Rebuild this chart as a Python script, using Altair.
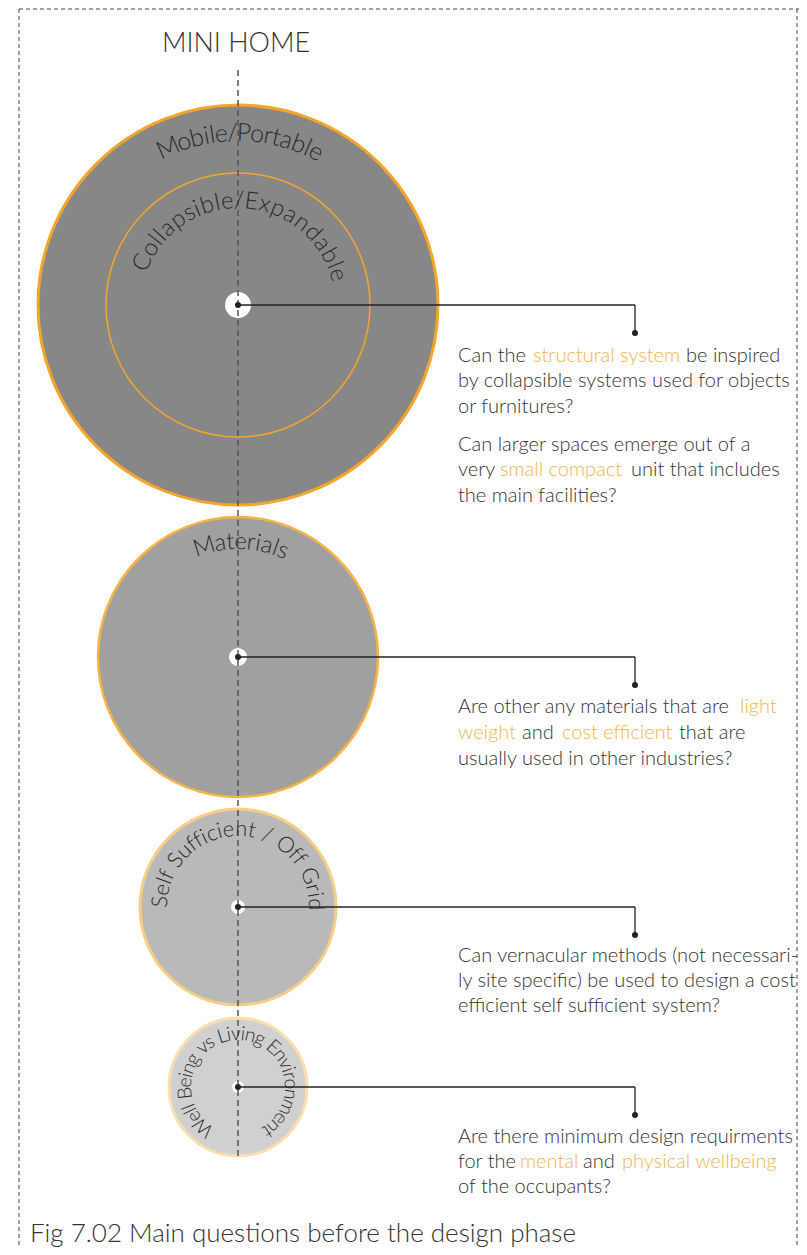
import math
import altair as alt
import pandas as pd

# ---------------- data ----------------
title_text = "MINI HOME"
caption_text = "Fig 7.02 Main questions before the design phase"

axis_x = 238
circle_cy = [305, 657, 907, 1087]
circle_r = [200, 140, 98, 69]
circle_fill = ["#878787", "#a0a0a0", "#b9b9b9", "#d0d0d0"]
circle_stroke = ["#f5a52a", "#f6b347", "#f8cd85", "#fadfae"]
circle_stroke_w = [3, 2.5, 3, 3]
hub_r = [13, 9, 7, 6]
inner_ring_r = 132

leader_corner_x = 635
leader_drop = 28

arc_labels = ["Mobile/Portable", "Collapsible/Expandable", "Materials",
              "Self Sufficient / Off Grid", "Well Being vs Living Environment"]
arc_cy = [305, 305, 657, 907, 1087]
arc_radius = [172, 104, 115, 78, 53]
arc_start = [-24, -66, -17, -86, -139]
arc_end = [27, 73, 23, 88, 147]
arc_font = [25, 24, 24, 22, 19.5]

seg_text = [
    "Can the", "structural system", "be inspired",
    "by collapsible systems used for objects",
    "or furnitures?",
    "Can larger spaces emerge out of a",
    "very", "small compact", "unit that includes",
    "the main facilities?",
    "Are other any materials that are", "light",
    "weight", "and", "cost efficient", "that are",
    "usually used in other industries?",
    "Can vernacular methods (not necessari-",
    "ly site specific) be used to design a cost",
    "efficient self sufficient system?",
    "Are there minimum design requirments",
    "for the", "mental", "and", "physical wellbeing",
    "of the occupants?",
]
seg_x = [458, 533, 686, 458, 458, 458, 458, 500, 631, 458,
         458, 740, 458, 522, 562, 679, 458, 458, 458, 458,
         458, 458, 520, 583, 622, 458]
seg_y = [362, 362, 362, 387, 413, 451, 476, 476, 476, 502,
         713, 713, 739, 739, 739, 739, 765, 962, 987, 1012,
         1143, 1168, 1168, 1168, 1168, 1193]
seg_hl = [0, 1, 0, 0, 0, 0, 0, 1, 0, 0,
          0, 1, 1, 0, 1, 0, 0, 0, 0, 0,
          0, 0, 1, 0, 1, 0]

# approximate glyph widths (em) used to space the curved labels
glyph_w = {
    "a": .51, "b": .56, "c": .45, "d": .56, "e": .51, "f": .31, "g": .50,
    "h": .56, "i": .24, "j": .24, "k": .49, "l": .24, "m": .84, "n": .56,
    "o": .55, "p": .56, "r": .35, "s": .41, "t": .34, "u": .56, "v": .49,
    "w": .74, "x": .48, "y": .49, "z": .44, " ": .30, "/": .40, "C": .64,
    "E": .54, "G": .69, "L": .46, "M": .84, "P": .55, "S": .50, "W": .92,
    "O": .75, "B": .60,
}

FONT = "Lato"
DARK = "#333333"
ORANGE = "#f9b44e"

# ---------------- tables ----------------
circles = pd.DataFrame({
    "x": [axis_x] * 4, "y": circle_cy,
    "size": [(2 * r) ** 2 for r in circle_r],
    "fill": circle_fill, "stroke": circle_stroke, "sw": circle_stroke_w,
})
ring = pd.DataFrame({"x": [axis_x], "y": [circle_cy[0]], "size": [(2 * inner_ring_r) ** 2]})
hubs = pd.DataFrame({"x": [axis_x] * 4, "y": circle_cy, "size": [(2 * r) ** 2 for r in hub_r]})
centers = pd.DataFrame({"x": [axis_x] * 4, "y": circle_cy})
ends = pd.DataFrame({"x": [leader_corner_x] * 4, "y": [c + leader_drop for c in circle_cy]})
hlines = pd.DataFrame({"x": [axis_x] * 4, "x2": [leader_corner_x] * 4, "y": circle_cy})
vlines = pd.DataFrame({"x": [leader_corner_x] * 4, "y": circle_cy,
                       "y2": [c + leader_drop for c in circle_cy]})

rows = []
for lab, cy, r, a0, a1, fs in zip(arc_labels, arc_cy, arc_radius, arc_start, arc_end, arc_font):
    ws = [glyph_w.get(ch, .5) for ch in lab]
    cum, pos = 0.0, []
    for w in ws:
        pos.append(cum + w / 2)
        cum += w
    p0, p1 = pos[0], pos[-1]
    for ch, p in zip(lab, pos):
        th = a0 + (a1 - a0) * (p - p0) / (p1 - p0)
        rad = math.radians(th)
        rows.append({"ch": ch, "x": axis_x + r * math.sin(rad), "y": cy - r * math.cos(rad),
                     "rot": th % 360, "fs": fs})
arc_chars = pd.DataFrame(rows)

segs = pd.DataFrame({"t": seg_text, "x": seg_x, "y": seg_y,
                     "c": [ORANGE if h else DARK for h in seg_hl]})

# ---------------- chart ----------------
xs = alt.Scale(domain=[8, 799], nice=False, zero=False)
ys = alt.Scale(domain=[8, 1247], nice=False, zero=False, reverse=True)
X = lambda f="x": alt.X(f"{f}:Q", scale=xs, axis=None)
Y = lambda f="y": alt.Y(f"{f}:Q", scale=ys, axis=None)

border_h = alt.Chart(pd.DataFrame({"x": [19], "x2": [799], "y": [9]})).mark_rule(
    color="#444", strokeWidth=1, strokeDash=[4, 3]).encode(x=X(), x2="x2:Q", y=Y())
border_v = alt.Chart(pd.DataFrame({"x": [19, 797], "y": [9, 9], "y2": [1247, 1247]})).mark_rule(
    color="#444", strokeWidth=1, strokeDash=[4, 3]).encode(x=X(), y=Y(), y2="y2:Q")

circ = alt.Chart(circles).mark_circle(opacity=1).encode(
    x=X(), y=Y(), size=alt.Size("size:Q", scale=None),
    fill=alt.Fill("fill:N", scale=None), stroke=alt.Stroke("stroke:N", scale=None),
    strokeWidth=alt.StrokeWidth("sw:Q", scale=None))
inner = alt.Chart(ring).mark_point(shape="circle", filled=False, color="#f5a52a",
                                   strokeWidth=1.5, opacity=1).encode(
    x=X(), y=Y(), size=alt.Size("size:Q", scale=None))
hub = alt.Chart(hubs).mark_circle(color="white", opacity=1).encode(
    x=X(), y=Y(), size=alt.Size("size:Q", scale=None))
axis_line = alt.Chart(pd.DataFrame({"x": [axis_x], "y": [70], "y2": [1157]})).mark_rule(
    color="#555", strokeWidth=1.5, strokeDash=[6, 4]).encode(x=X(), y=Y(), y2="y2:Q")
lead_h = alt.Chart(hlines).mark_rule(color="#222", strokeWidth=1.3).encode(x=X(), x2="x2:Q", y=Y())
lead_v = alt.Chart(vlines).mark_rule(color="#222", strokeWidth=1.3).encode(x=X(), y=Y(), y2="y2:Q")
dots = alt.Chart(pd.concat([centers, ends])).mark_circle(color="#222", size=36, opacity=1).encode(
    x=X(), y=Y())

arc_text = alt.Chart(arc_chars).mark_text(font=FONT, fontWeight=300, color="#2a2a2a",
                                          align="center", baseline="middle").encode(
    x=X(), y=Y(), text="ch:N", angle=alt.Angle("rot:Q", scale=None),
    size=alt.Size("fs:Q", scale=None))

q_text = alt.Chart(segs).mark_text(font=FONT, fontWeight=300, fontSize=20, align="left",
                                   baseline="alphabetic").encode(
    x=X(), y=Y(), text="t:N", color=alt.Color("c:N", scale=None))

title = alt.Chart(pd.DataFrame({"t": [title_text], "x": [236], "y": [52]})).mark_text(
    font=FONT, fontWeight=300, fontSize=27, color=DARK, align="center", baseline="alphabetic"
).encode(x=X(), y=Y(), text="t:N")
caption = alt.Chart(pd.DataFrame({"t": [caption_text], "x": [30], "y": [1242]})).mark_text(
    font=FONT, fontWeight=300, fontSize=26, color=DARK, align="left", baseline="alphabetic"
).encode(x=X(), y=Y(), text="t:N")

chart = alt.layer(
    border_h, border_v, circ, inner, hub, axis_line, lead_h, lead_v, dots,
    arc_text, q_text, title, caption
).properties(width=791, height=1239, padding=0, autosize="none").configure_view(stroke=None)

chart.save("out.html", embed_options={"renderer": "svg", "actions": False})
